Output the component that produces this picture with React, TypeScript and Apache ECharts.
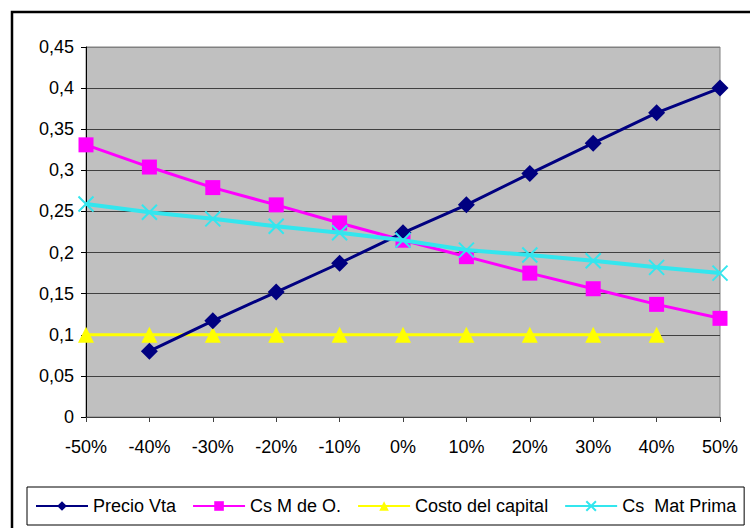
import React, { useEffect, useRef } from "react";
import * as echarts from "echarts";

// Sensitivity of each cost driver vs. variation percentage
const categories = ["-50%", "-40%", "-30%", "-20%", "-10%", "0%", "10%", "20%", "30%", "40%", "50%"];
const precioVta = [null, 0.08, 0.117, 0.152, 0.187, 0.224, 0.258, 0.296, 0.333, 0.37, 0.4];
const csManoObra = [0.331, 0.304, 0.279, 0.258, 0.236, 0.215, 0.195, 0.175, 0.156, 0.137, 0.12];
const costoCapital = [0.1, 0.1, 0.1, 0.1, 0.1, 0.1, 0.1, 0.1, 0.1, 0.1, null];
const csMatPrima = [0.259, 0.249, 0.241, 0.232, 0.224, 0.215, 0.203, 0.197, 0.19, 0.182, 0.175];

const FONT = "'Liberation Sans', Arial, sans-serif";
const CROSS = "path://M0,0 L10,10 M10,0 L0,10";

export default function App() {
  const ref = useRef<HTMLDivElement>(null);

  useEffect(() => {
    if (!ref.current) return;
    const chart = echarts.init(ref.current, undefined, { renderer: "svg" });
    const toData = (arr: (number | null)[]) => arr.map((v) => (v === null ? "-" : v));

    const gridColors = ["#404040", "#404040", "#404040", "#404040", "#404040", "#404040", "#404040", "#404040", "#404040", "#808080"];

    chart.setOption({
      animation: false,
      backgroundColor: "#ffffff",
      textStyle: { fontFamily: FONT },
      graphic: [
        {
          type: "rect",
          z: -10,
          shape: { x: 12, y: 12, width: 800, height: 600 },
          style: { fill: "none", stroke: "#000", lineWidth: 2.5 },
        },
      ],
      grid: {
        left: 86,
        right: 30,
        top: 47,
        bottom: 111,
        show: true,
        backgroundColor: "#c0c0c0",
        borderColor: "#808080",
        borderWidth: 1,
      },
      legend: {
        left: 27,
        top: 487,
        orient: "horizontal",
        itemWidth: 52,
        itemHeight: 12,
        itemGap: 16,
        padding: [10, 8],
        borderColor: "#000",
        borderWidth: 1,
        backgroundColor: "#fff",
        textStyle: { fontFamily: FONT, fontSize: 18, color: "#000" },
        data: ["Precio Vta", "Cs M de O.", "Costo del capital", "Cs  Mat Prima"],
      },
      xAxis: {
        type: "category",
        data: categories,
        boundaryGap: false,
        axisLine: { lineStyle: { color: "#404040", width: 1 } },
        axisTick: { show: true, length: 5, alignWithLabel: true, lineStyle: { color: "#404040" } },
        axisLabel: { fontFamily: FONT, fontSize: 18, color: "#000", margin: 21 },
        splitLine: { show: false },
      },
      yAxis: {
        type: "value",
        min: 0,
        max: 0.45,
        interval: 0.05,
        axisLine: { show: true, lineStyle: { color: "#000", width: 1 } },
        axisTick: { show: true, length: 5, lineStyle: { color: "#000" } },
        axisLabel: {
          fontFamily: FONT,
          fontSize: 18,
          color: "#000",
          margin: 12,
          formatter: (v: number) => String(Math.round(v * 100) / 100).replace(".", ","),
        },
        splitLine: { show: true, lineStyle: { color: gridColors, width: 1 } },
      },
      series: [
        {
          name: "Precio Vta",
          type: "line",
          data: toData(precioVta),
          symbol: "diamond",
          symbolSize: 17,
          lineStyle: { color: "#000080", width: 3 },
          itemStyle: { color: "#000080" },
          z: 4,
        },
        {
          name: "Cs M de O.",
          type: "line",
          data: toData(csManoObra),
          symbol: "rect",
          symbolSize: 15,
          lineStyle: { color: "#ff00ff", width: 3 },
          itemStyle: { color: "#ff00ff" },
          z: 3,
        },
        {
          name: "Costo del capital",
          type: "line",
          data: toData(costoCapital),
          symbol: "triangle",
          symbolSize: 16,
          lineStyle: { color: "#ffff00", width: 3 },
          itemStyle: { color: "#ffff00" },
          z: 2,
        },
        {
          name: "Cs  Mat Prima",
          type: "line",
          data: toData(csMatPrima),
          symbol: CROSS,
          symbolSize: 15,
          lineStyle: { color: "#33e6ee", width: 4 },
          itemStyle: { color: "none", borderColor: "#33e6ee", borderWidth: 2 },
          z: 5,
        },
      ],
    });

    return () => chart.dispose();
  }, []);

  return (
    <div
      ref={ref}
      style={{ position: "fixed", left: 0, top: 0, width: 750, height: 528 }}
    />
  );
}
